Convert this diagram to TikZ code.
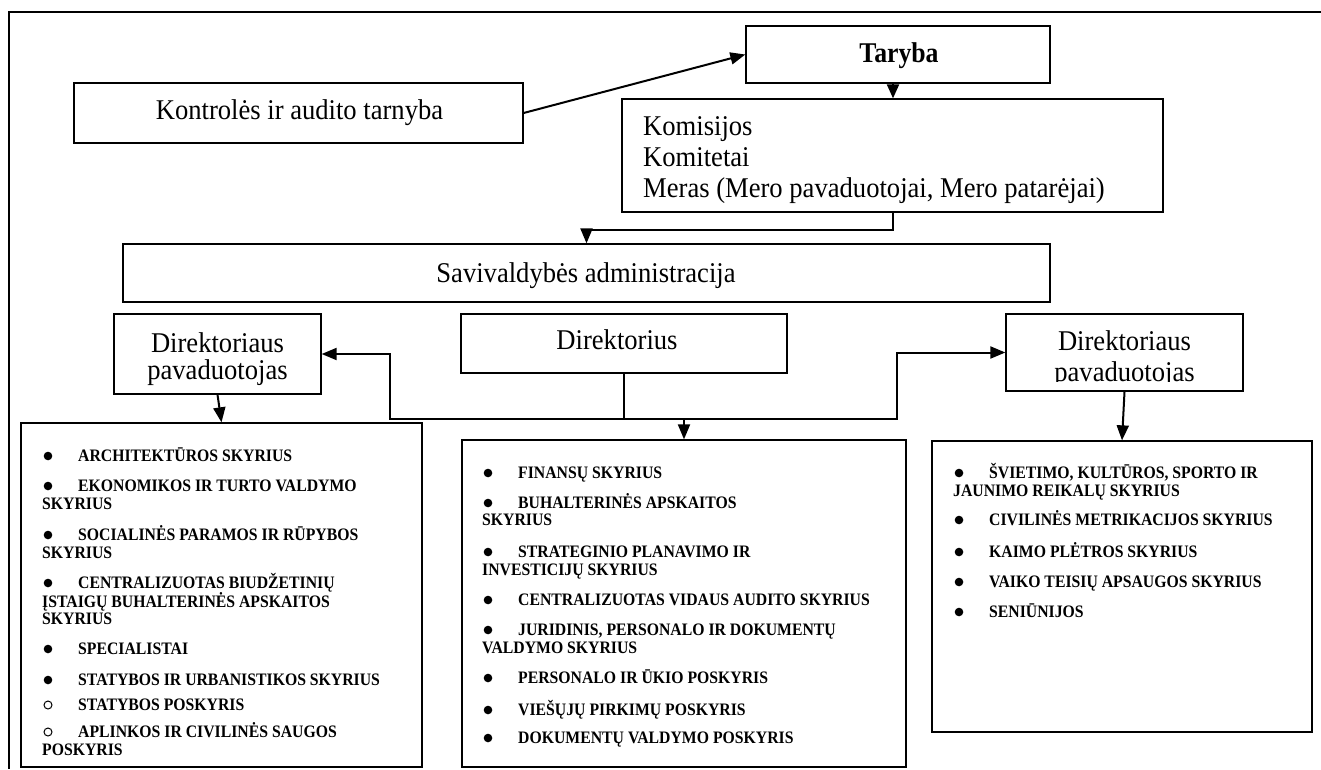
\documentclass[tikz,border=0pt]{standalone}
\usepackage{fontspec}
\setmainfont{Liberation Serif}
\newfontfamily\condmain[FakeStretch=0.93]{Liberation Serif}
\newfontfamily\condbold[FakeStretch=0.9]{Liberation Serif Bold}
\usetikzlibrary{arrows.meta}
\begin{document}
\begin{tikzpicture}[x=1pt,y=-1pt,
  box/.style={draw,line width=1.3pt,inner sep=0pt,rectangle},
  conn/.style={line width=2pt,-{Triangle[length=15pt,width=12pt]}},
  maintxt/.style={font=\condmain\fontsize{28.6}{30}\selectfont,inner sep=0pt,anchor=base},
  itemtxt/.style={font=\condbold\fontsize{17.5}{18}\selectfont,inner sep=0pt,anchor=west,text height=11.6pt,text depth=0pt},
  dot/.style={circle,fill,inner sep=0pt,minimum size=8.6pt},
  odot/.style={circle,draw,line width=1pt,inner sep=0pt,minimum size=8pt},
]
\useasboundingbox (0,0) rectangle (1321,769);
% outer frame
\draw[line width=1.5pt] (1321,12) -- (9,12) -- (9,769);

% boxes
\node[box,minimum width=449pt,minimum height=60pt] (kontr) at (298.5,113) {};
\node[maintxt] (kontrt) at (299.5,119) {Kontrolės ir audito tarnyba};

\node[box,minimum width=304pt,minimum height=57pt] (taryba) at (898,54.5) {};
\node[maintxt,font=\condbold\fontsize{28.6}{30}\selectfont] (tarybat) at (899,62) {Taryba};

\node[box,minimum width=541pt,minimum height=113pt] (kom) at (892.5,155.5) {};
\node[maintxt,anchor=base west] (k1) at (643,135) {Komisijos};
\node[maintxt,anchor=base west] (k2) at (643,166) {Komitetai};
\node[maintxt,anchor=base west] (k3) at (643,197) {Meras (Mero pavaduotojai, Mero patarėjai)};

\node[box,minimum width=927pt,minimum height=58pt] (sav) at (586.5,273) {};
\node[maintxt] (savt) at (586,282) {Savivaldybės administracija};

\node[box,minimum width=207pt,minimum height=80pt] (dpl) at (217.5,354) {};
\node[maintxt] (dpl1) at (217.5,352) {Direktoriaus};
\node[maintxt] (dpl2) at (217.5,379) {pavaduotojas};

\node[box,minimum width=326pt,minimum height=59pt] (dir) at (624,343.5) {};
\node[maintxt] (dirt) at (617,349) {Direktorius};

\node[box,minimum width=237pt,minimum height=77pt] (dpr) at (1124.5,352.5) {};
\begin{scope}
\clip (1006,314) rectangle (1243,381);
\node[maintxt] (dpr1) at (1124.5,350) {Direktoriaus};
\node[maintxt] (dpr2) at (1124.5,381) {pavaduotojas};
\end{scope}

\node[box,minimum width=401pt,minimum height=344pt] (lft) at (221.5,595) {};
\node[box,minimum width=444pt,minimum height=327pt] (mid) at (684,603.5) {};
\node[box,minimum width=380pt,minimum height=291pt] (rgt) at (1122,586.5) {};

% connectors
\coordinate (jl) at (390,419);
\coordinate (jr) at (897,419);
\draw[conn] (kontr.east) -- (taryba.west);
\draw[conn,-{Triangle[length=14pt,width=12pt]}] ([xshift=-5pt]taryba.south) -- ([xshift=-5pt]taryba.south |- kom.north);
\draw[conn] (kom.south) -- ++(0,17) -| (sav.north);
\draw[conn] (dir.south) -- (dir.south |- jl) -| (mid.north);
\draw[conn] (dir.south |- jl) -- (jl) |- (dpl.east);
\draw[conn] (dir.south |- jl) -- (jr) |- (dpr.west);
\draw[conn] (dpl.south) -- (lft.north);
\draw[conn] (dpr.south) -- (rgt.north);

% left list
\foreach \yy [count=\i] in {456,486,535,583,649,680} \node[dot] (lb\i) at (48,\yy) {};
\foreach \yy [count=\i] in {705,732} \node[odot] (lo\i) at (48,\yy) {};
\foreach \yy/\xx/\lab [count=\i] in {
 456/78/ARCHITEKTŪROS SKYRIUS,
 486/78/EKONOMIKOS IR TURTO VALDYMO,
 504/42/SKYRIUS,
 535/78/SOCIALINĖS PARAMOS IR RŪPYBOS,
 553/42/SKYRIUS,
 583/78/CENTRALIZUOTAS BIUDŽETINIŲ,
 602/42/ĮSTAIGŲ BUHALTERINĖS APSKAITOS,
 619/42/SKYRIUS,
 649/78/SPECIALISTAI,
 680/78/STATYBOS IR URBANISTIKOS SKYRIUS,
 705/78/STATYBOS POSKYRIS,
 732/78/APLINKOS IR CIVILINĖS SAUGOS,
 750/42/POSKYRIS}
 \node[itemtxt] (lt\i) at (\xx,\yy) {\lab};

% middle list
\foreach \yy [count=\i] in {473,503,552,600,630,678,710,738} \node[dot] (mb\i) at (488,\yy) {};
\foreach \yy/\xx/\lab [count=\i] in {
 473/518/FINANSŲ SKYRIUS,
 503/518/BUHALTERINĖS APSKAITOS,
 520/482/SKYRIUS,
 552/518/STRATEGINIO PLANAVIMO IR,
 570/482/INVESTICIJŲ SKYRIUS,
 600/518/CENTRALIZUOTAS VIDAUS AUDITO SKYRIUS,
 630/518/{JURIDINIS, PERSONALO IR DOKUMENTŲ},
 648/482/VALDYMO SKYRIUS,
 678/518/PERSONALO IR ŪKIO POSKYRIS,
 710/518/VIEŠŲJŲ PIRKIMŲ POSKYRIS,
 738/518/DOKUMENTŲ VALDYMO POSKYRIS}
 \node[itemtxt] (mt\i) at (\xx,\yy) {\lab};

% right list
\foreach \yy [count=\i] in {473,520,552,582,612} \node[dot] (rb\i) at (959,\yy) {};
\foreach \yy/\xx/\lab [count=\i] in {
 473/989/{ŠVIETIMO, KULTŪROS, SPORTO IR},
 491/953/JAUNIMO REIKALŲ SKYRIUS,
 520/989/CIVILINĖS METRIKACIJOS SKYRIUS,
 552/989/KAIMO PLĖTROS SKYRIUS,
 582/989/VAIKO TEISIŲ APSAUGOS SKYRIUS,
 612/989/SENIŪNIJOS}
 \node[itemtxt] (rt\i) at (\xx,\yy) {\lab};
\end{tikzpicture}
\end{document}
